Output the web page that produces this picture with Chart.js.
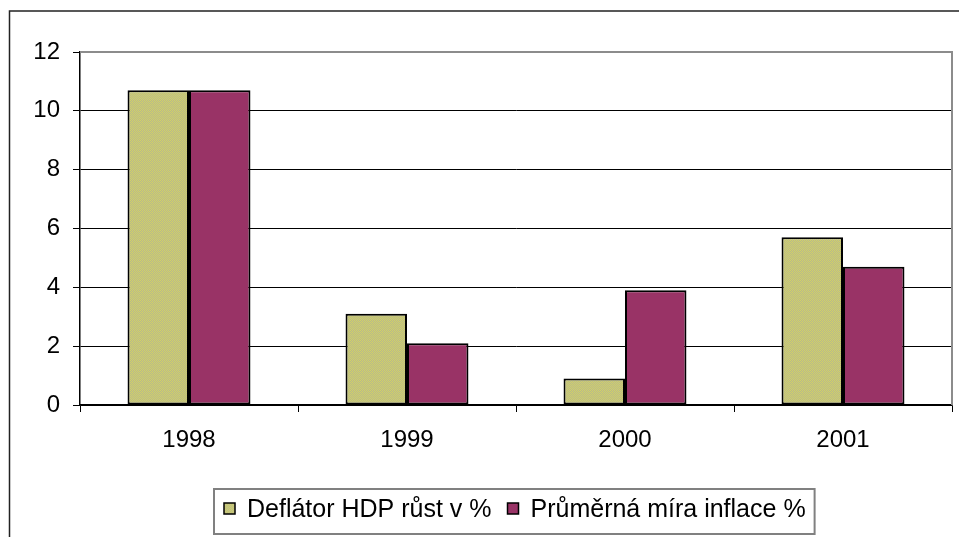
<!DOCTYPE html>
<html>
<head>
<meta charset="utf-8">
<script src="https://cdn.jsdelivr.net/npm/chart.js@4/dist/chart.umd.min.js"></script>
<style>
  html, body { margin: 0; padding: 0; background: #ffffff; }
  #wrap { position: relative; width: 959px; height: 537px; }
</style>
</head>
<body>
<div id="wrap"><canvas id="c" width="959" height="537"></canvas></div>
<script>
const categories = ['1998', '1999', '2000', '2001'];
const deflatorValues = [10.7, 3.1, 0.9, 5.7];
const inflationValues = [10.7, 2.1, 3.9, 4.7];
const yTicks = [0, 2, 4, 6, 8, 10, 12];
const seriesNames = ['Deflátor HDP růst v %', 'Průměrná míra inflace %'];

const FONT = "'Liberation Sans', Arial, sans-serif";

function makePattern() {
  const p = document.createElement('canvas');
  p.width = 2; p.height = 2;
  const g = p.getContext('2d');
  g.fillStyle = '#d2d266'; g.fillRect(0, 0, 2, 2);
  g.fillStyle = '#b8b88e'; g.fillRect(1, 0, 1, 1); g.fillRect(0, 1, 1, 1);
  return document.getElementById('c').getContext('2d').createPattern(p, 'repeat');
}
const greenFill = makePattern();
const purpleFill = '#993366';

const framePlugin = {
  id: 'frame',
  afterDraw(chart) {
    const ctx = chart.ctx;
    const a = chart.chartArea;
    ctx.save();
    // outer frame
    ctx.strokeStyle = '#222222';
    ctx.lineWidth = 1.5;
    ctx.beginPath();
    ctx.moveTo(9.5, 540); ctx.lineTo(9.5, 11); ctx.lineTo(960, 11);
    ctx.stroke();
    // plot area top/right grey border
    ctx.strokeStyle = '#8c8c8c';
    ctx.lineWidth = 2;
    ctx.beginPath();
    ctx.moveTo(a.left, a.top); ctx.lineTo(a.right, a.top); ctx.lineTo(a.right, a.bottom);
    ctx.stroke();
    // legend
    ctx.font = '25px ' + FONT;
    const w1 = ctx.measureText(seriesNames[0]).width;
    const w2 = ctx.measureText(seriesNames[1]).width;
    const box = 11, gapIn = 12, gapBetween = 16, padL = 10, padR = 9;
    const totalW = padL + box + gapIn + w1 + gapBetween + box + gapIn + w2 + padR;
    const cx = 514.5;
    const lx = Math.round(cx - totalW / 2);
    const ly = 489, lh = 45;
    ctx.fillStyle = '#ffffff';
    ctx.fillRect(lx, ly, totalW, lh);
    ctx.strokeStyle = '#808080';
    ctx.lineWidth = 2;
    ctx.strokeRect(lx, ly, totalW, lh);
    const my = 503;
    let x = lx + padL;
    const fills = [greenFill, purpleFill];
    const widths = [w1, w2];
    ctx.textBaseline = 'alphabetic';
    ctx.textAlign = 'left';
    for (let i = 0; i < 2; i++) {
      ctx.fillStyle = fills[i];
      ctx.fillRect(x, my, box, box);
      ctx.strokeStyle = '#000000';
      ctx.lineWidth = 1.5;
      ctx.strokeRect(x, my, box, box);
      x += box + gapIn;
      ctx.fillStyle = '#000000';
      ctx.fillText(seriesNames[i], x, 517);
      x += widths[i] + gapBetween;
    }
    ctx.restore();
  }
};

new Chart(document.getElementById('c'), {
  type: 'bar',
  data: {
    labels: categories,
    datasets: [
      { label: seriesNames[0], data: deflatorValues, backgroundColor: greenFill, borderColor: '#000000', borderWidth: 2, borderSkipped: false },
      { label: seriesNames[1], data: inflationValues, backgroundColor: purpleFill, borderColor: '#000000', borderWidth: 2, borderSkipped: false }
    ]
  },
  options: {
    responsive: false,
    animation: false,
    devicePixelRatio: 1,
    layout: { padding: { left: 0, right: 7, top: 52, bottom: 0 } },
    datasets: { bar: { categoryPercentage: 0.564, barPercentage: 1.0 } },
    plugins: { legend: { display: false }, tooltip: { enabled: false } },
    scales: {
      x: {
        offset: true,
        grid: { offset: true, drawOnChartArea: false, drawTicks: true, tickLength: 7, color: '#000000', lineWidth: 1 },
        border: { color: '#000000', width: 1.5 },
        ticks: { color: '#000000', font: { family: FONT, size: 24 }, padding: 14 },
        afterFit(scale) { scale.height = 132; }
      },
      y: {
        min: 0, max: 12,
        afterBuildTicks(scale) { scale.ticks = yTicks.map(v => ({ value: v })); },
        grid: { color: '#000000', lineWidth: 1, tickLength: 7 },
        border: { color: '#000000', width: 1.5 },
        ticks: { color: '#000000', font: { family: FONT, size: 24 }, padding: 13 },
        afterFit(scale) { scale.width = 80; }
      }
    }
  },
  plugins: [framePlugin]
});
</script>
</body>
</html>
